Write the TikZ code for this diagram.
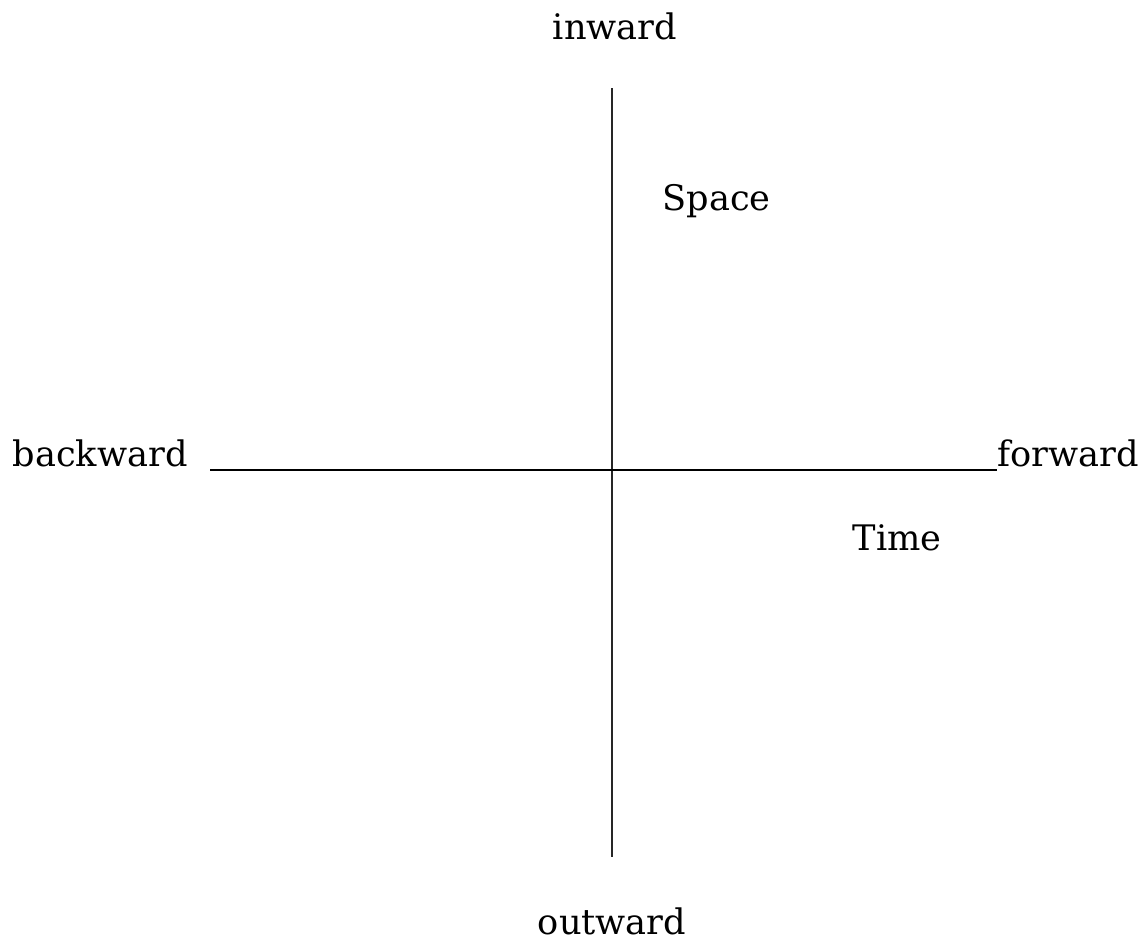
\documentclass[tikz,border=0pt]{standalone}
\usepackage{fontspec}
\setmainfont{DejaVu Serif}
\usetikzlibrary{positioning}

\begin{document}
\begin{tikzpicture}[x=0.01cm, y=-0.01cm,
    word/.style={inner sep=0pt, anchor=base west, font=\fontsize{10}{12}\selectfont}]
            \useasboundingbox (0,0) rectangle (1143,944);

            \coordinate (N) at (612,88);
            \coordinate (S) at (612,857);
            \coordinate (W) at (210,470);

            \node[word] (fwd) at (997,466) {forward};
            \node[word] (bwd) at (12,466) {backward};
            \node[word, anchor=base] (in) at (615,39) {inward};
            \node[word, anchor=base] (out) at (612,934) {outward};
            \node[word] (space) at (662,210) {Space};
            \node[word] (time) at (852,550) {Time};

            \draw[line width=0.3pt, black!85] (N) -- (S);
            \draw[line width=0.45pt] (W) -- (W -| fwd.west);

        \end{tikzpicture}
\end{document}
